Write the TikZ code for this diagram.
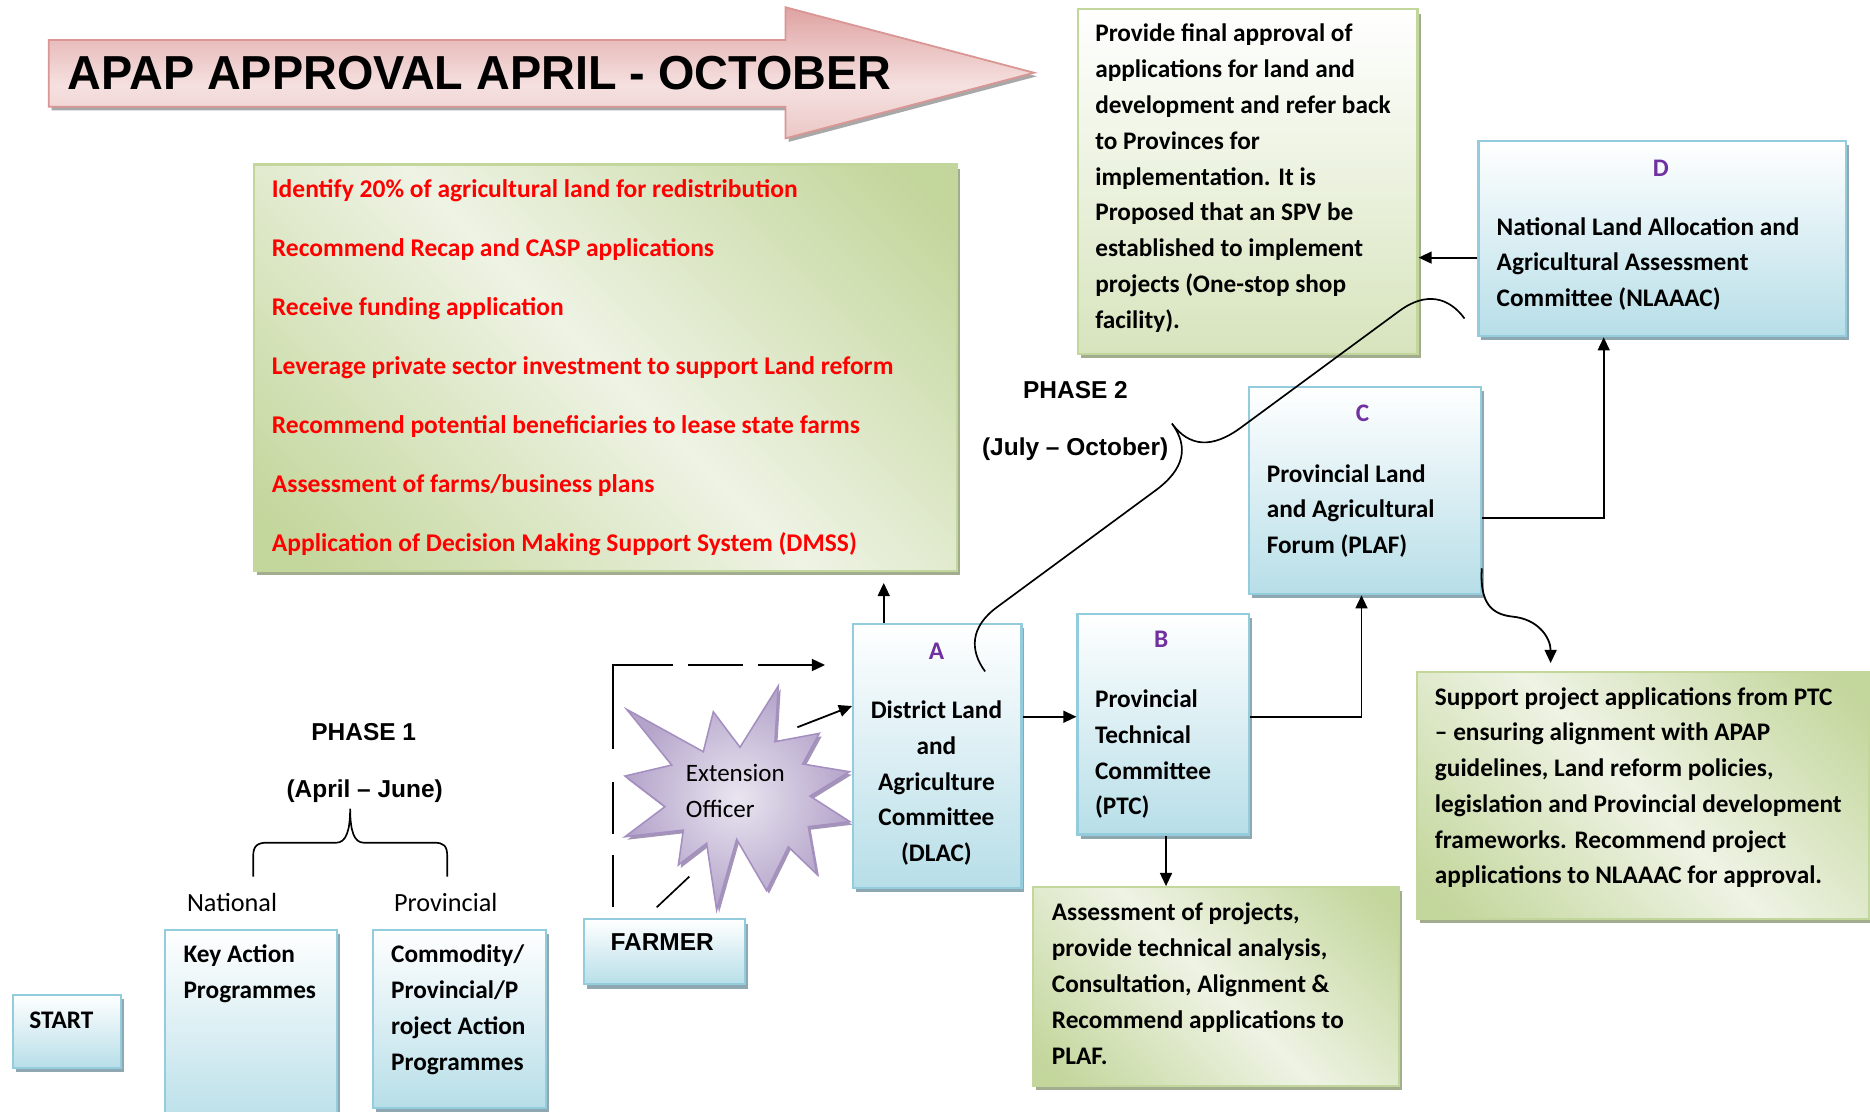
\documentclass[tikz,border=0pt]{standalone}
\usepackage{fontspec}
\setmainfont{Carlito}
\newfontfamily\arialf{Liberation Sans}
\newfontfamily\titlef{Liberation Sans}[FakeStretch=0.98]
\usetikzlibrary{arrows.meta,shadows,calc}
\definecolor{bborder}{HTML}{93CDDD}
\definecolor{bbot}{HTML}{B7DEE8}
\definecolor{bshadow}{HTML}{8EA7B1}
\definecolor{gborder}{HTML}{C3D69B}
\definecolor{gdark}{HTML}{C3D69B}
\definecolor{glight}{HTML}{EEF3E4}
\definecolor{gbot}{HTML}{D7E4BD}
\definecolor{gshadow}{HTML}{A2AC8E}
\definecolor{pborder}{HTML}{D99694}
\definecolor{pdark}{HTML}{DEA3A2}
\definecolor{plight}{HTML}{F5E1E0}
\definecolor{plow}{HTML}{EBC7C6}
\definecolor{pshadow}{HTML}{A8A8A8}
\definecolor{sborder}{HTML}{A48FC0}
\definecolor{slight}{HTML}{E9E5F0}
\definecolor{sdark}{HTML}{B4A4CA}
\definecolor{sshadow}{HTML}{A394B8}
\definecolor{purp}{HTML}{7030A0}
\definecolor{redtext}{HTML}{FF0000}
\pgfdeclareverticalshading{gband}{100bp}{color(0bp)=(gdark); color(18bp)=(gdark); color(50bp)=(glight); color(82bp)=(gdark); color(100bp)=(gdark)}
\pgfdeclareverticalshading{pinkv}{100bp}{color(0bp)=(plow); color(25bp)=(plow); color(45bp)=(plight); color(75bp)=(pdark); color(100bp)=(pdark)}
\begin{document}
\begin{tikzpicture}[x=1pt,y=-1pt,
  bluebox/.style={rectangle, draw=bborder, line width=1.8pt, top color=white, bottom color=bbot,
    inner sep=0, anchor=north west,
    drop shadow={shadow xshift=2.5pt,shadow yshift=-3.5pt,fill=bshadow,opacity=1}},
  bandbox/.style={rectangle, draw=gborder, line width=1.8pt, shade, shading=gband, shading angle=-45,
    inner sep=0, anchor=north west,
    drop shadow={shadow xshift=2.5pt,shadow yshift=-3.5pt,fill=gshadow,opacity=1}},
  finbox/.style={rectangle, draw=gborder, line width=1.8pt, top color=white, bottom color=gbot,
    inner sep=0, anchor=north west,
    drop shadow={shadow xshift=2.5pt,shadow yshift=-3.5pt,fill=gshadow,opacity=1}},
  txt/.style={inner sep=0, align=left, anchor=north west, font=\fontsize{21.2}{30}\selectfont\bfseries},
  ctxt/.style={inner sep=0, align=center, anchor=north, font=\fontsize{21.2}{30}\selectfont\bfseries},
  letter/.style={inner sep=0, anchor=base, text=purp, font=\fontsize{21.2}{30}\selectfont\bfseries},
  arlabel/.style={inner sep=0, anchor=base, font=\arialf\fontsize{20.5}{24}\selectfont\bfseries},
  arr/.style={line width=1.5pt, -{Triangle[length=11pt,width=10pt]}},
  plain/.style={line width=1.4pt}
]
\useasboundingbox (0,0) rectangle (1568,932);
\clip (0,0) rectangle (1568,932);
\fill[white] (0,0) rectangle (1568,932);

% title arrow
\path[shade, shading=pinkv, draw=pborder, line width=1.5pt,
  drop shadow={shadow xshift=2.5pt,shadow yshift=-3pt,fill=pshadow,opacity=1}]
  (40.8,33.5) -- (658.7,33.5) -- (658.7,6.1) -- (867,61) -- (658.7,116) -- (658.7,89.5) -- (40.8,89.5) -- cycle;
\node[anchor=base west, inner sep=0, font=\titlef\fontsize{40}{48}\selectfont\bfseries] (title) at (56.7,75) {APAP APPROVAL APRIL - OCTOBER};

% red list box
\node[bandbox, minimum width=589pt, minimum height=341pt] (red) at (212.2,137) {};
\node[txt, text=redtext, font=\fontsize{21.4}{49.5}\selectfont\bfseries] (redtxt) at (227.8,130.35) {\strut Identify 20\% of agricultural land for redistribution\\Recommend Recap and CASP applications\\Receive funding application\\Leverage private sector investment to support Land reform\\Recommend potential beneficiaries to lease state farms\\Assessment of farms/business plans\\Application of Decision Making Support System (DMSS)};

% final approval box
\node[finbox, minimum width=285pt, minimum height=289pt] (fin) at (902.7,7) {};
\node[txt] (fintxt) at (918.2,14) {\strut Provide final approval of\\applications for land and\\development and refer back\\to Provinces for\\implementation. It is\\Proposed that an SPV be\\established to implement\\projects (One-stop shop\\facility).};

% D box
\node[bluebox, minimum width=308.4pt, minimum height=163.6pt] (D) at (1238.8,117.4) {};
\node[letter] (Dl) at (1392.6,147.8) {D};
\node[txt] (Dtxt) at (1254.8,176) {\strut National Land Allocation and\\Agricultural Assessment\\Committee (NLAAAC)};

% C box
\node[bluebox, minimum width=194.6pt, minimum height=173.6pt] (C) at (1046.1,323.7) {};
\node[letter] (Cl) at (1142.5,353.6) {C};
\node[txt] (Ctxt) at (1062,383) {\strut Provincial Land\\and Agricultural\\Forum (PLAF)};

% support box
\node[bandbox, minimum width=379pt, minimum height=207pt] (sup) at (1187,562.7) {};
\node[txt] (suptxt) at (1203,570) {\strut Support project applications from PTC\\– ensuring alignment with APAP\\guidelines, Land reform policies,\\legislation and Provincial development\\frameworks. Recommend project\\applications to NLAAAC for approval.};

% assessment box
\node[bandbox, minimum width=307pt, minimum height=166.8pt] (asm) at (865,743) {};
\node[txt] (asmtxt) at (881.8,751) {\strut Assessment of projects,\\provide technical analysis,\\Consultation, Alignment \&\\Recommend applications to\\PLAF.};

% extension officer star
\path[shade, inner color=slight, outer color=sdark, draw=sborder, line width=1.3pt,
  drop shadow={shadow xshift=2pt,shadow yshift=-2.5pt,fill=sshadow,opacity=1}]
  (525.5,594.8) -- (589.7,630.3) -- (598.1,596.8) -- (620.5,626.6) -- (652.6,575.2) -- (649.8,621.9)
  -- (687,614.9) -- (673,640.6) -- (712.2,647.1) -- (679.2,667.5) -- (712.7,689) -- (677.8,693.2)
  -- (684.8,732.9) -- (661,710) -- (642.8,746.8) -- (617.7,703.8) -- (600.9,763) -- (592.5,707.1)
  -- (568.8,725.3) -- (573,696) -- (524,701.6) -- (557.6,676.4) -- (524,650.7) -- (563.2,641.5) -- cycle;
\node[inner sep=0, align=left, anchor=north west, font=\fontsize{21}{30.2}\selectfont] (eo) at (575,633.6) {\strut Extension\\Officer};

% A box
\node[bluebox, minimum width=141.2pt, minimum height=221.4pt] (A) at (714.4,522.1) {};
\node[letter] (Al) at (785.2,553.3) {A};
\node[ctxt] (Atxt) at (785.2,581.3) {\strut District Land\\and\\Agriculture\\Committee\\(DLAC)};

% B box
\node[bluebox, minimum width=143.5pt, minimum height=185.1pt] (B) at (902.6,513.7) {};
\node[letter] (Bl) at (973.7,542.8) {B};
\node[txt] (Btxt) at (918,572) {\strut Provincial\\Technical\\Committee\\(PTC)};

% FARMER, START, programmes
\node[bluebox, minimum width=135.2pt, minimum height=54.5pt] (farmer) at (488.6,770) {};
\node[arlabel] (farmertxt) at (555.2,796.6) {FARMER};
\node[bluebox, minimum width=90.7pt, minimum height=60.9pt] (start) at (10.2,833.5) {};
\node[txt] (starttxt) at (24.4,841) {\strut START};
\node[bluebox, minimum width=143.9pt, minimum height=170pt] (key) at (137.5,778.7) {};
\node[txt] (keytxt) at (153.7,786) {\strut Key Action\\Programmes};
\node[bluebox, minimum width=145.2pt, minimum height=149.8pt] (com) at (311.5,778.7) {};
\node[txt] (comtxt) at (327.8,786) {\strut Commodity/\\Provincial/P\\roject Action\\Programmes};

% phase labels
\node[inner sep=0, anchor=base west, font=\fontsize{22}{30}\selectfont] (nat) at (156.6,764.5) {National};
\node[inner sep=0, anchor=base west, font=\fontsize{22}{30}\selectfont] (prov) at (330.2,764.5) {Provincial};
\node[arlabel] (ph1) at (305,621) {PHASE 1};
\node[arlabel] (ph1d) at (305.8,668.6) {(April – June)};
\node[arlabel] (ph2) at (901.8,334.2) {PHASE 2};
\node[arlabel] (ph2d) at (901.5,382) {(July – October)};

% phase 1 brace
\draw[plain] (212.3,735) -- (212.3,718) .. controls (212.3,709) and (216,706.6) .. (224,706.6) -- (282,706.6)
  .. controls (290,706.6) and (293.6,697) .. (293.6,678) .. controls (293.6,697) and (297,706.6) .. (305,706.6)
  -- (364,706.6) .. controls (372,706.6) and (375,709) .. (375,718) -- (375,735);

% helper coordinates
\coordinate (yDF) at (0,216);
\coordinate (xCD) at (1344.7,0);
\coordinate (yCD) at (0,434.4);
\coordinate (xBC) at (1141.6,0);
\coordinate (yAB) at (0,601);
\coordinate (xBA) at (977.7,0);
\coordinate (xAR) at (741,0);
\coordinate (st1) at (668.6,609.8);
\coordinate (yEA) at (0,592);
\coordinate (fs1) at (550.6,760.8);
\coordinate (fs2) at (578,735);
\coordinate (dsh) at (513.7,760.3);
\coordinate (dend) at (691.8,557.6);
\coordinate (yCS) at (0,476.5);
\coordinate (csEnd) at (1300.2,556);
\coordinate (b2s) at (826,563);

% connectors
\draw[arr] (D.west |- yDF) -- (fin.east |- yDF);
\draw[arr] (C.east |- yCD) -| (xCD |- D.south);
\draw[arr] (B.east |- yAB) -| (xBC |- C.south);
\draw[arr] (A.east |- yAB) -- (B.west |- yAB);
\draw[arr] (xBA |- B.south) -- (xBA |- asm.north);
\draw[arr, shorten >=9pt] (xAR |- A.north) -- (xAR |- red.south);
\draw[arr] (st1) -- (A.west |- yEA);
\draw[plain] (fs1) -- (fs2);
\draw[arr, dash pattern=on 43.4pt off 17.5pt on 43.4pt off 28pt on 121pt off 12.6pt on 46pt off 12.5pt on 80pt off 10pt] (dsh) |- (dend);
\draw[arr] (C.east |- yCS) .. controls (1240.7,505) and (1250,515) .. (1268,517)
  .. controls (1290,519) and (1300.2,535) .. (csEnd);

% phase 2 brace
\begin{scope}[shift={(b2s)}, rotate=36.36, x=1pt, y=1pt]
\draw[plain] (0,0) .. controls (0,22) and (12,37.5) .. (40,37.5) -- (205,37.5)
  .. controls (235,37.5) and (249.4,50) .. (249.4,74.6)
  .. controls (249.4,50) and (264,37.5) .. (294,37.5) -- (459,37.5)
  .. controls (487,37.5) and (499.2,22) .. (499.2,0);
\end{scope}
\end{tikzpicture}
\end{document}
